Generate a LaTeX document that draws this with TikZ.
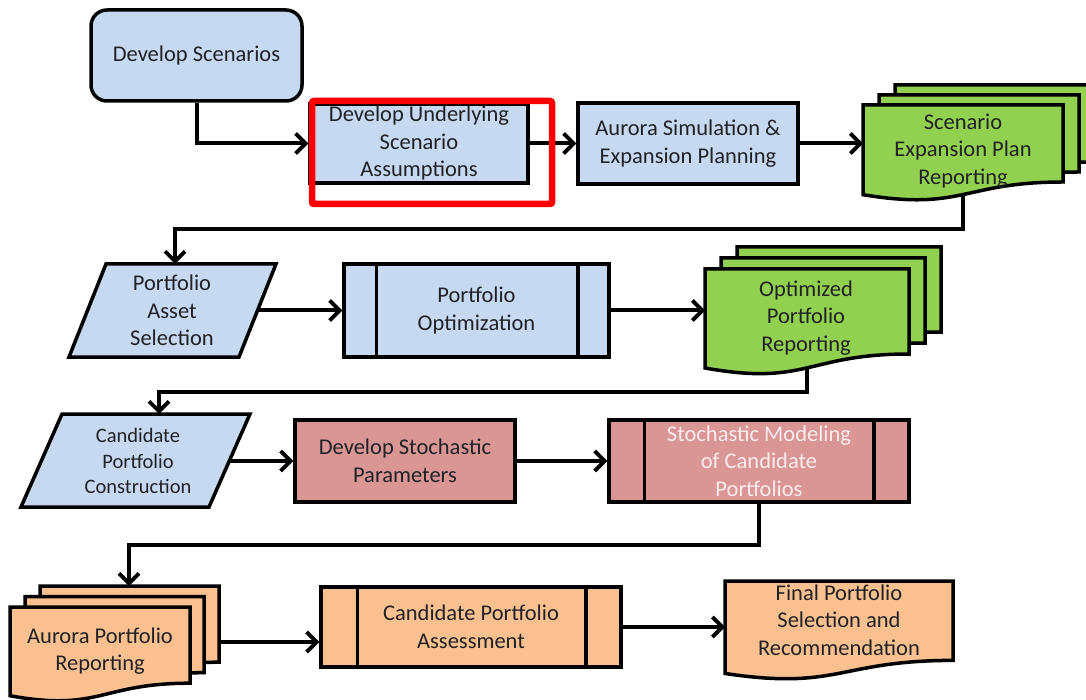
\documentclass[tikz,border=0pt]{standalone}
\usepackage{fontspec}
\setmainfont{Carlito}
\usetikzlibrary{arrows.meta,calc}
\definecolor{lblue}{RGB}{198,217,241}
\definecolor{lgreen}{RGB}{146,208,80}
\definecolor{lpink}{RGB}{217,150,148}
\definecolor{lorange}{RGB}{250,192,144}
\definecolor{txt}{RGB}{32,34,38}
\definecolor{wtxt}{RGB}{250,236,236}
\newcommand\mydoc[5]{\draw[shapeline, fill=#5] (#1,#2) -- ({#1+#3},#2) -- ({#1+#3},{#2+0.802*#4}) .. controls ({#1+0.5*#3},{#2+0.802*#4}) and ({#1+0.5*#3},{#2+1.107*#4}) .. (#1,{#2+0.934*#4}) -- cycle;}
\tikzset{
  shapeline/.style={draw=black, line width=3.5pt, line join=miter},
  box/.style={shapeline, fill=#1, inner sep=0pt, align=center, text=txt},
  lbl/.style={align=center, text=txt, inner sep=0pt},
  conn/.style={line width=4pt, -{Straight Barb[length=10pt,width=20pt,line width=3.8pt]}},
  hlframe/.style={draw=red, line width=6.5pt, rounded corners=2pt, inner sep=0pt}
}
\begin{document}
\begin{tikzpicture}[x=1pt,y=-1pt,font=\fontsize{22.5}{27.5}\selectfont]
\useasboundingbox (0,0) rectangle (1086,700);
\fill[white] (0,0) rectangle (1086,700);
\clip (0,0) rectangle (1086,700);

% ---------- Row 1 ----------
\node[box=lblue, rounded corners=16pt, minimum width=211pt, minimum height=91pt] (ds) at (196.5,55.5) {Develop Scenarios};
\node[box=lblue, minimum width=218pt, minimum height=79pt] (dusa) at (419,143.5) {Develop Underlying\\Scenario\\Assumptions};
\node[box=lblue, minimum width=220pt, minimum height=81pt] (asep) at (688,143.5) {Aurora Simulation \&\\Expansion Planning};
\mydoc{895}{85}{200}{96}{lgreen}
\mydoc{879}{95}{200}{96}{lgreen}
\mydoc{863}{105}{200}{96}{lgreen}
\node[lbl] (sepr) at (963,151) {Scenario\\Expansion Plan\\Reporting};
\coordinate (sepr-w) at (863,143.5);
\coordinate (sepr-b) at (963,194);

% ---------- Row 2 ----------
\draw[shapeline, fill=lblue] (106,264) -- (276,264) -- (239,357) -- (69,357) -- cycle;
\node[lbl] (pas) at (172,310.5) {Portfolio\\Asset\\Selection};
\coordinate (pas-n) at (175,264);
\coordinate (pas-e) at (257.5,310.5);
\node[box=lblue, minimum width=265pt, minimum height=93pt] (po) at (476.5,310.5) {Portfolio\\Optimization};
\draw[shapeline] ([xshift=34pt]po.north west) -- ([xshift=34pt]po.south west);
\draw[shapeline] ([xshift=-33pt]po.north east) -- ([xshift=-33pt]po.south east);
\mydoc{737}{247}{204}{106}{lgreen}
\mydoc{721}{258}{204}{106}{lgreen}
\mydoc{705}{269}{204}{106}{lgreen}
\node[lbl] (opr) at (806,318) {Optimized\\Portfolio\\Reporting};
\coordinate (opr-w) at (705,310.5);
\coordinate (opr-b) at (807,368);

% ---------- Row 3 ----------
\draw[shapeline, fill=lblue] (62,414) -- (250,414) -- (209,507) -- (21,507) -- cycle;
\node[lbl, font=\fontsize{20.5}{25.5}\selectfont] (cpc) at (138,461) {Candidate\\Portfolio\\Construction};
\coordinate (cpc-n) at (159,414);
\coordinate (cpc-e) at (229.5,461);
\node[box=lpink, minimum width=220pt, minimum height=82pt] (dsp) at (405,461) {Develop Stochastic\\Parameters};
\node[box=lpink, text=wtxt, minimum width=300pt, minimum height=82pt] (smcp) at (759,461) {Stochastic Modeling\\of Candidate\\Portfolios};
\draw[shapeline] ([xshift=37pt]smcp.north west) -- ([xshift=37pt]smcp.south west);
\draw[shapeline] ([xshift=-37pt]smcp.north east) -- ([xshift=-37pt]smcp.south east);

% ---------- Row 4 ----------
\mydoc{40}{586}{179}{95}{lorange}
\mydoc{25}{596.5}{179}{95}{lorange}
\mydoc{10}{607}{180}{95}{lorange}
\node[lbl] (apr) at (100,651) {Aurora Portfolio\\Reporting};
\coordinate (apr-n) at (129,586);
\coordinate (apr-e) at (219,642);
\node[box=lorange, minimum width=300pt, minimum height=80pt] (cpa) at (471,627) {Candidate Portfolio\\Assessment};
\draw[shapeline] ([xshift=38pt]cpa.north west) -- ([xshift=38pt]cpa.south west);
\draw[shapeline] ([xshift=-37pt]cpa.north east) -- ([xshift=-37pt]cpa.south east);
\mydoc{725}{581}{228}{99}{lorange}
\node[lbl] (fpsr) at (839,620) {Final Portfolio\\Selection and\\Recommendation};
\coordinate (fpsr-w) at (725,627);

% ---------- Connectors ----------
\draw[conn] (ds.south) |- (dusa.west);
\draw[conn] (dusa.east) -- (asep.west);
\draw[conn] (asep.east) -- (sepr-w);
\draw[conn] (sepr-b) -- ++(0,35) -| (pas-n);
\draw[conn] (pas-e) -- (po.west);
\draw[conn] (po.east) -- (opr-w);
\draw[conn] (opr-b) -- ++(0,24) -| (cpc-n);
\draw[conn] (cpc-e) -- (dsp.west);
\draw[conn] (dsp.east) -- (smcp.west);
\draw[conn] (smcp.south) -- ++(0,41) -| (apr-n);
\draw[conn] (apr-e) -- (apr-e -| cpa.west);
\draw[conn] (cpa.east) -- (fpsr-w);

% ---------- Highlight ----------
\node[hlframe, minimum width=240pt, minimum height=103pt] (hl) at (432,152.5) {};
\end{tikzpicture}
\end{document}
